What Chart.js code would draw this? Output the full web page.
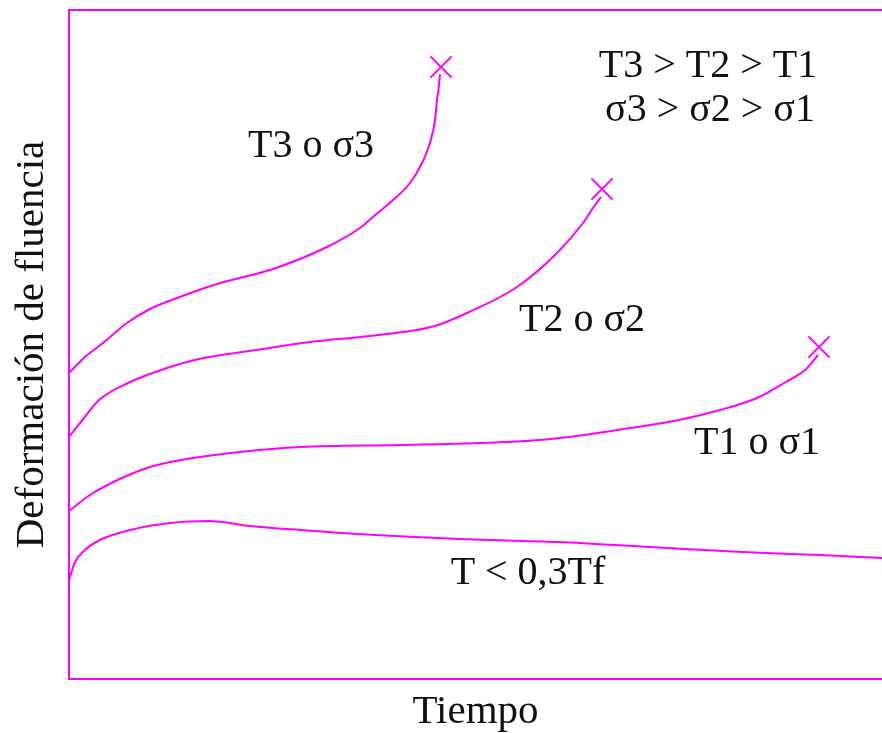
<!DOCTYPE html>
<html>
<head>
<meta charset="utf-8">
<script src="https://cdn.jsdelivr.net/npm/chart.js@4/dist/chart.umd.min.js"></script>
<style>
  html, body { margin: 0; padding: 0; background: #ffffff; }
  #wrap { width: 882px; height: 733px; }
</style>
</head>
<body>
<div id="wrap"><canvas id="c" width="882" height="733"></canvas></div>
<script>
// ---- data (arbitrary units: time vs creep strain) ----
const t3X = [0, 16, 34, 58, 81, 108, 148, 204, 258, 291, 304, 324, 341, 353, 361, 366, 368, 370, 371];
const t3Y = [306, 322, 336, 356, 370, 381, 395, 410, 432, 451, 462, 479, 496, 516, 536, 559, 579, 594, 605];

const t2X = [0, 15, 30, 59, 98, 130, 187, 241, 291, 334, 366, 398, 448, 488, 514, 524, 532];
const t2Y = [242, 261, 279, 296, 311, 320, 329, 337, 342, 347, 353, 366, 392, 426, 456, 471, 482];

const t1X = [0, 21, 55, 81, 112, 171, 232, 331, 411, 471, 515, 561, 610, 651, 688, 715, 736, 749];
const t1Y = [168, 184, 202, 212, 219, 227, 232, 234, 236, 239, 244, 251, 259, 269, 281, 296, 309, 324];

const t0X = [0, 6, 16, 31, 61, 101, 140, 181, 231, 306, 391, 489, 581, 673, 751, 813];
const t0Y = [99, 117, 129, 139, 149, 156, 158, 153, 149, 144, 140, 137, 132, 127, 124, 121];

// rupture points (crosses)
const ruptureX = [372, 533, 750];
const ruptureY = [612, 490, 332];

// annotation texts and their positions in data units
const labelTexts = ["T3 > T2 > T1", "σ3 > σ2 > σ1", "T3 o σ3", "T2 o σ2", "T1 o σ1", "T < 0,3Tf"];
const labelX = [639, 641, 242, 513, 688, 459];
const labelY = [613, 569, 533, 359, 236, 106];

const xTitle = "Tiempo";
const yTitle = "Deformación de fluencia";

const xMin = 0, xMax = 813, yMin = 0, yMax = 669;

// ---- build ----
const MAG = "#ff00ff";
const SERIF = "'Liberation Serif', 'Times New Roman', serif";
const toPts = (xs, ys) => xs.map((x, i) => ({ x: x, y: ys[i] }));

function curve(xs, ys) {
  return {
    data: toPts(xs, ys),
    borderColor: MAG,
    borderWidth: 2,
    pointRadius: 0,
    fill: false,
    clip: false,
    cubicInterpolationMode: 'monotone'
  };
}

const labelPlugin = {
  id: 'labels',
  afterDatasetsDraw(chart) {
    const ctx = chart.ctx;
    const xs = chart.scales.x, ys = chart.scales.y;
    ctx.save();
    ctx.fillStyle = "#111";
    ctx.font = "40px " + SERIF;
    ctx.textAlign = "center";
    ctx.textBaseline = "middle";
    labelTexts.forEach((t, i) => {
      ctx.fillText(t, xs.getPixelForValue(labelX[i]), ys.getPixelForValue(labelY[i]));
    });
    ctx.restore();
  }
};

new Chart(document.getElementById('c'), {
  type: 'line',
  data: {
    datasets: [
      curve(t3X, t3Y),
      curve(t2X, t2Y),
      curve(t1X, t1Y),
      curve(t0X, t0Y),
      {
        data: toPts(ruptureX, ruptureY),
        showLine: false,
        clip: false,
        pointStyle: 'crossRot',
        pointRadius: 15,
        pointBorderWidth: 2,
        borderColor: MAG,
        pointBorderColor: MAG,
        backgroundColor: MAG
      }
    ]
  },
  options: {
    responsive: false,
    animation: false,
    events: [],
    layout: { autoPadding: false, padding: 0 },
    plugins: { legend: { display: false }, tooltip: { enabled: false } },
    scales: {
      x: {
        type: 'linear',
        position: 'bottom',
        min: xMin, max: xMax,
        grid: { display: false, drawTicks: false },
        ticks: { display: false },
        border: { display: true, color: MAG, width: 2 },
        title: {
          display: true, text: xTitle, color: '#111',
          font: { family: SERIF, size: 41, lineHeight: 1 },
          padding: { top: 0, bottom: 0 }
        },
        afterFit(s) { s.height = 54; }
      },
      xTop: {
        type: 'linear',
        position: 'top',
        min: xMin, max: xMax,
        grid: { display: false, drawTicks: false },
        ticks: { display: false },
        border: { display: true, color: MAG, width: 2 },
        afterFit(s) { s.height = 10; }
      },
      y: {
        type: 'linear',
        min: yMin, max: yMax,
        grid: { display: false, drawTicks: false },
        ticks: { display: false },
        border: { display: true, color: MAG, width: 2 },
        title: {
          display: true, text: yTitle, color: '#111',
          font: { family: SERIF, size: 41, lineHeight: 1 },
          padding: { top: 12, bottom: 0 }
        },
        afterFit(s) { s.width = 69; }
      }
    }
  },
  plugins: [labelPlugin]
});
</script>
</body>
</html>
